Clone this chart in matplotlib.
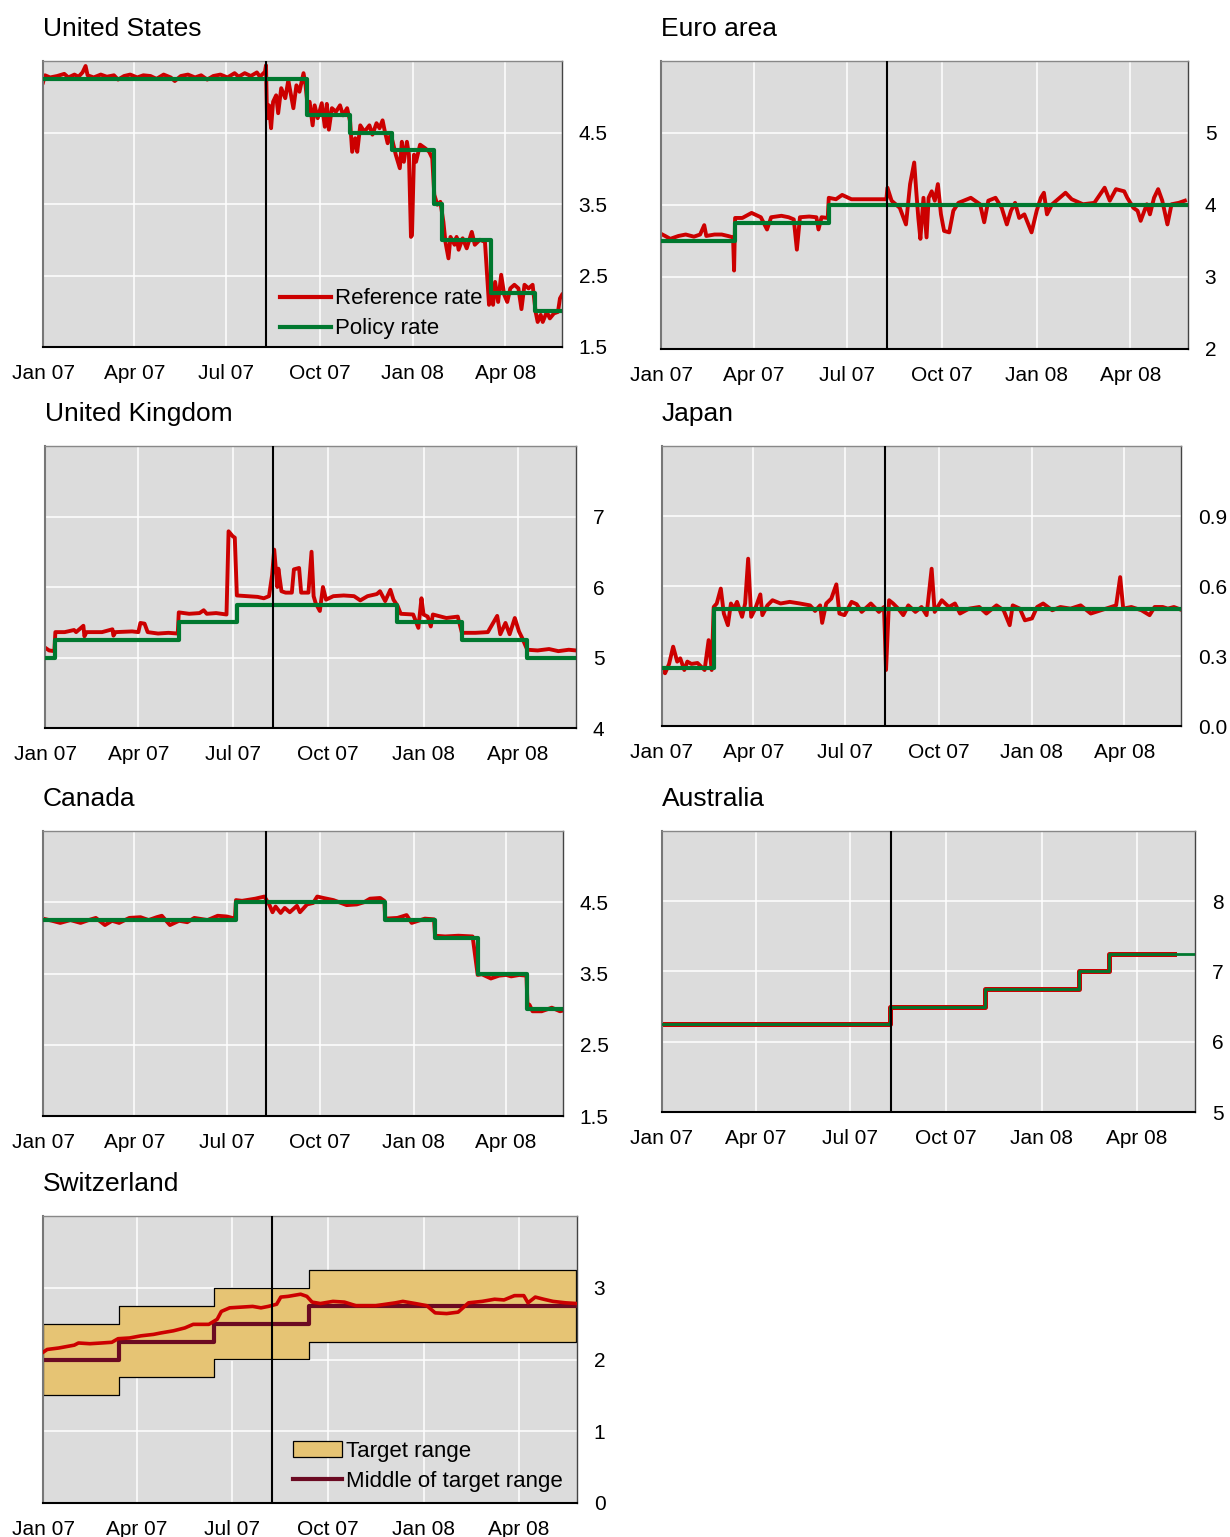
import numpy as np
import pandas as pd
import matplotlib
matplotlib.use("Agg")
import matplotlib.pyplot as plt
from matplotlib.lines import Line2D
from matplotlib.patches import Patch

plt.rcParams['font.family'] = ['Liberation Sans', 'DejaVu Sans']

RED = '#CC0000'
GREEN = '#00782F'
MAROON = '#6B0A22'
TARGET = '#E6C474'
BG = '#DCDCDC'

START = '2007-01-01'
END = '2008-05-27'
TURMOIL = '2007-08-09'

quarters = pd.date_range('2007-01-01', '2008-04-01', freq='QS')
quarter_labels = [d.strftime('%b %y') for d in quarters]

# ---- United States ----
us_ref = [
    ("2007-01-01", 5.20), ("2007-01-03", 5.30), ("2007-01-08", 5.27), ("2007-01-15", 5.29),
    ("2007-01-22", 5.32), ("2007-01-26", 5.27), ("2007-02-01", 5.31), ("2007-02-05", 5.28),
    ("2007-02-09", 5.34), ("2007-02-12", 5.43), ("2007-02-14", 5.30), ("2007-02-20", 5.27),
    ("2007-02-27", 5.31), ("2007-03-05", 5.28), ("2007-03-12", 5.30), ("2007-03-16", 5.24),
    ("2007-03-22", 5.29), ("2007-03-28", 5.31), ("2007-04-04", 5.27), ("2007-04-10", 5.30),
    ("2007-04-17", 5.29), ("2007-04-23", 5.25), ("2007-04-30", 5.31), ("2007-05-07", 5.27),
    ("2007-05-11", 5.22), ("2007-05-17", 5.29), ("2007-05-24", 5.31), ("2007-05-31", 5.27),
    ("2007-06-06", 5.30), ("2007-06-12", 5.24), ("2007-06-18", 5.29), ("2007-06-25", 5.31),
    ("2007-07-02", 5.27), ("2007-07-09", 5.33), ("2007-07-13", 5.28), ("2007-07-19", 5.33),
    ("2007-07-25", 5.29), ("2007-07-31", 5.34), ("2007-08-03", 5.28), ("2007-08-08", 5.35),
    ("2007-08-09", 5.44), ("2007-08-10", 4.70), ("2007-08-12", 4.88), ("2007-08-14", 4.56),
    ("2007-08-16", 4.93), ("2007-08-19", 5.02), ("2007-08-21", 4.77), ("2007-08-24", 5.12),
    ("2007-08-28", 4.98), ("2007-08-31", 5.23), ("2007-09-05", 4.84), ("2007-09-08", 5.16),
    ("2007-09-11", 5.07), ("2007-09-15", 5.33), ("2007-09-17", 5.16), ("2007-09-19", 4.88),
    ("2007-09-21", 4.93), ("2007-09-24", 4.60), ("2007-09-26", 4.88), ("2007-09-29", 4.70),
    ("2007-10-03", 4.91), ("2007-10-06", 4.58), ("2007-10-08", 4.90), ("2007-10-10", 4.54),
    ("2007-10-13", 4.84), ("2007-10-17", 4.79), ("2007-10-21", 4.88), ("2007-10-24", 4.74),
    ("2007-10-28", 4.84), ("2007-10-31", 4.65), ("2007-11-02", 4.23), ("2007-11-05", 4.42),
    ("2007-11-07", 4.23), ("2007-11-10", 4.60), ("2007-11-14", 4.51), ("2007-11-19", 4.60),
    ("2007-11-22", 4.47), ("2007-11-26", 4.63), ("2007-11-29", 4.56), ("2007-12-02", 4.67),
    ("2007-12-04", 4.53), ("2007-12-07", 4.35), ("2007-12-10", 4.47), ("2007-12-12", 4.37),
    ("2007-12-15", 4.19), ("2007-12-19", 4.00), ("2007-12-21", 4.37), ("2007-12-23", 4.09),
    ("2007-12-26", 4.37), ("2007-12-28", 4.19), ("2007-12-30", 3.04), ("2007-12-31", 3.06),
    ("2008-01-02", 4.19), ("2008-01-04", 4.09), ("2008-01-08", 4.33), ("2008-01-13", 4.28),
    ("2008-01-17", 4.23), ("2008-01-20", 4.14), ("2008-01-22", 3.63), ("2008-01-25", 3.49),
    ("2008-01-28", 3.53), ("2008-01-31", 3.25), ("2008-02-02", 2.97), ("2008-02-05", 2.74),
    ("2008-02-07", 3.04), ("2008-02-11", 2.93), ("2008-02-13", 3.04), ("2008-02-15", 2.86),
    ("2008-02-19", 3.02), ("2008-02-23", 2.88), ("2008-02-28", 3.11), ("2008-03-02", 2.93),
    ("2008-03-07", 3.00), ("2008-03-12", 2.97), ("2008-03-16", 2.09), ("2008-03-18", 2.32),
    ("2008-03-20", 2.09), ("2008-03-22", 2.41), ("2008-03-25", 2.13), ("2008-03-28", 2.51),
    ("2008-03-31", 2.23), ("2008-04-03", 2.13), ("2008-04-06", 2.32), ("2008-04-10", 2.37),
    ("2008-04-14", 2.32), ("2008-04-17", 2.03), ("2008-04-20", 2.37), ("2008-04-24", 2.32),
    ("2008-04-28", 2.37), ("2008-05-01", 1.99), ("2008-05-03", 1.85), ("2008-05-06", 1.95),
    ("2008-05-08", 1.85), ("2008-05-12", 1.99), ("2008-05-15", 1.90), ("2008-05-19", 1.97),
    ("2008-05-23", 1.99), ("2008-05-25", 2.18), ("2008-05-27", 2.23),
]
us_policy = [
    ("2007-01-01", 5.25), ("2007-09-18", 4.75), ("2007-10-31", 4.50), ("2007-12-11", 4.25),
    ("2008-01-22", 3.50), ("2008-01-30", 3.00), ("2008-03-18", 2.25), ("2008-04-30", 2.00),
    (END, 2.00),
]

# ---- Euro area ----
ea_ref = [
    ("2007-01-01", 3.60), ("2007-01-05", 3.57), ("2007-01-10", 3.53), ("2007-01-18", 3.57),
    ("2007-01-25", 3.59), ("2007-02-02", 3.56), ("2007-02-08", 3.59), ("2007-02-12", 3.72),
    ("2007-02-14", 3.57), ("2007-02-22", 3.59), ("2007-03-01", 3.59), ("2007-03-07", 3.57),
    ("2007-03-12", 3.55), ("2007-03-13", 3.09), ("2007-03-14", 3.82), ("2007-03-21", 3.82),
    ("2007-03-30", 3.89), ("2007-04-08", 3.83), ("2007-04-14", 3.66), ("2007-04-18", 3.83),
    ("2007-04-28", 3.85), ("2007-05-05", 3.83), ("2007-05-10", 3.80), ("2007-05-13", 3.38),
    ("2007-05-16", 3.83), ("2007-05-25", 3.84), ("2007-06-01", 3.83), ("2007-06-03", 3.66),
    ("2007-06-06", 3.83), ("2007-06-12", 3.82), ("2007-06-13", 4.10), ("2007-06-20", 4.08),
    ("2007-06-26", 4.14), ("2007-07-05", 4.08), ("2007-07-15", 4.08), ("2007-07-25", 4.08),
    ("2007-08-03", 4.08), ("2007-08-08", 4.08), ("2007-08-09", 4.24), ("2007-08-13", 4.06),
    ("2007-08-21", 3.96), ("2007-08-27", 3.73), ("2007-08-31", 4.29), ("2007-09-04", 4.59),
    ("2007-09-06", 4.19), ("2007-09-08", 3.82), ("2007-09-10", 3.53), ("2007-09-13", 4.10),
    ("2007-09-16", 3.55), ("2007-09-18", 4.10), ("2007-09-21", 4.19), ("2007-09-24", 4.06),
    ("2007-09-27", 4.29), ("2007-09-30", 3.87), ("2007-10-03", 3.64), ("2007-10-08", 3.62),
    ("2007-10-12", 3.92), ("2007-10-17", 4.03), ("2007-10-29", 4.10), ("2007-11-07", 4.01),
    ("2007-11-11", 3.76), ("2007-11-15", 4.06), ("2007-11-22", 4.10), ("2007-11-28", 3.96),
    ("2007-12-03", 3.73), ("2007-12-07", 3.92), ("2007-12-11", 4.03), ("2007-12-15", 3.82),
    ("2007-12-20", 3.87), ("2007-12-27", 3.62), ("2008-01-01", 3.92), ("2008-01-05", 4.10),
    ("2008-01-08", 4.17), ("2008-01-11", 3.87), ("2008-01-16", 4.01), ("2008-01-29", 4.17),
    ("2008-02-04", 4.08), ("2008-02-15", 4.01), ("2008-02-26", 4.03), ("2008-03-07", 4.24),
    ("2008-03-12", 4.06), ("2008-03-18", 4.22), ("2008-03-26", 4.19), ("2008-03-29", 4.10),
    ("2008-04-04", 3.96), ("2008-04-08", 3.92), ("2008-04-11", 3.78), ("2008-04-17", 4.01),
    ("2008-04-20", 3.87), ("2008-04-24", 4.10), ("2008-04-28", 4.22), ("2008-05-02", 4.06),
    ("2008-05-07", 3.73), ("2008-05-11", 4.01), ("2008-05-18", 4.03), ("2008-05-24", 4.06),
]
ea_policy = [("2007-01-01", 3.50), ("2007-03-14", 3.75), ("2007-06-13", 4.00), (END, 4.00)]

# ---- United Kingdom ----
uk_ref = [
    ("2007-01-01", 5.14), ("2007-01-05", 5.10), ("2007-01-10", 5.09), ("2007-01-11", 5.36),
    ("2007-01-20", 5.36), ("2007-01-29", 5.39), ("2007-01-31", 5.36), ("2007-02-07", 5.45),
    ("2007-02-08", 5.30), ("2007-02-10", 5.36), ("2007-02-25", 5.36), ("2007-03-07", 5.40),
    ("2007-03-08", 5.31), ("2007-03-10", 5.36), ("2007-03-26", 5.37), ("2007-04-01", 5.36),
    ("2007-04-03", 5.49), ("2007-04-07", 5.48), ("2007-04-10", 5.36), ("2007-04-20", 5.34),
    ("2007-04-30", 5.35), ("2007-05-09", 5.34), ("2007-05-10", 5.64), ("2007-05-20", 5.62),
    ("2007-05-30", 5.63), ("2007-06-03", 5.67), ("2007-06-06", 5.62), ("2007-06-15", 5.63),
    ("2007-06-25", 5.61), ("2007-06-27", 6.79), ("2007-07-01", 6.72), ("2007-07-03", 6.70),
    ("2007-07-05", 5.88), ("2007-07-15", 5.87), ("2007-07-25", 5.86), ("2007-07-31", 5.84),
    ("2007-08-05", 5.87), ("2007-08-08", 6.17), ("2007-08-10", 6.53), ("2007-08-13", 6.00),
    ("2007-08-14", 6.26), ("2007-08-17", 5.94), ("2007-08-21", 5.92), ("2007-08-27", 5.92),
    ("2007-08-29", 6.25), ("2007-09-03", 6.27), ("2007-09-05", 5.92), ("2007-09-12", 5.92),
    ("2007-09-15", 6.50), ("2007-09-17", 5.87), ("2007-09-19", 5.77), ("2007-09-23", 5.66),
    ("2007-09-26", 6.00), ("2007-09-29", 5.82), ("2007-10-06", 5.87), ("2007-10-16", 5.88),
    ("2007-10-26", 5.87), ("2007-11-01", 5.81), ("2007-11-08", 5.87), ("2007-11-17", 5.90),
    ("2007-11-20", 5.94), ("2007-11-25", 5.80), ("2007-11-30", 5.96), ("2007-12-03", 5.82),
    ("2007-12-07", 5.73), ("2007-12-10", 5.62), ("2007-12-22", 5.61), ("2007-12-27", 5.42),
    ("2007-12-30", 5.84), ("2008-01-01", 5.61), ("2008-01-05", 5.58), ("2008-01-08", 5.44),
    ("2008-01-10", 5.61), ("2008-01-23", 5.56), ("2008-02-03", 5.58), ("2008-02-07", 5.35),
    ("2008-02-20", 5.35), ("2008-03-03", 5.36), ("2008-03-12", 5.59), ("2008-03-15", 5.33),
    ("2008-03-20", 5.49), ("2008-03-24", 5.33), ("2008-03-29", 5.56), ("2008-04-02", 5.37),
    ("2008-04-05", 5.28), ("2008-04-10", 5.11), ("2008-04-20", 5.10), ("2008-05-01", 5.12),
    ("2008-05-10", 5.09), ("2008-05-20", 5.11), ("2008-05-27", 5.10),
]
uk_policy = [
    ("2007-01-01", 5.00), ("2007-01-11", 5.25), ("2007-05-10", 5.50), ("2007-07-05", 5.75),
    ("2007-12-06", 5.50), ("2008-02-07", 5.25), ("2008-04-10", 5.00), (END, 5.00),
]

# ---- Japan ----
jp_ref = [
    ("2007-01-01", 0.240), ("2007-01-04", 0.226), ("2007-01-08", 0.266), ("2007-01-12", 0.340),
    ("2007-01-16", 0.276), ("2007-01-19", 0.290), ("2007-01-23", 0.240), ("2007-01-26", 0.276),
    ("2007-01-30", 0.266), ("2007-02-05", 0.270), ("2007-02-12", 0.240), ("2007-02-16", 0.368),
    ("2007-02-19", 0.240), ("2007-02-21", 0.510), ("2007-02-24", 0.525), ("2007-02-28", 0.589),
    ("2007-03-03", 0.482), ("2007-03-07", 0.432), ("2007-03-10", 0.525), ("2007-03-13", 0.503),
    ("2007-03-16", 0.532), ("2007-03-21", 0.468), ("2007-03-24", 0.525), ("2007-03-27", 0.717),
    ("2007-03-30", 0.468), ("2007-04-03", 0.503), ("2007-04-08", 0.564), ("2007-04-10", 0.475),
    ("2007-04-15", 0.517), ("2007-04-20", 0.539), ("2007-04-28", 0.525), ("2007-05-07", 0.532),
    ("2007-05-17", 0.525), ("2007-05-27", 0.517), ("2007-06-01", 0.493), ("2007-06-06", 0.517),
    ("2007-06-08", 0.442), ("2007-06-12", 0.525), ("2007-06-17", 0.546), ("2007-06-22", 0.607),
    ("2007-06-25", 0.482), ("2007-06-30", 0.475), ("2007-07-07", 0.532), ("2007-07-12", 0.522),
    ("2007-07-17", 0.489), ("2007-07-26", 0.525), ("2007-08-03", 0.489), ("2007-08-08", 0.510),
    ("2007-08-10", 0.240), ("2007-08-13", 0.539), ("2007-08-17", 0.525), ("2007-08-22", 0.503),
    ("2007-08-27", 0.475), ("2007-09-01", 0.517), ("2007-09-08", 0.489), ("2007-09-14", 0.510),
    ("2007-09-19", 0.475), ("2007-09-24", 0.674), ("2007-09-27", 0.489), ("2007-10-04", 0.539),
    ("2007-10-11", 0.510), ("2007-10-17", 0.525), ("2007-10-22", 0.482), ("2007-10-31", 0.503),
    ("2007-11-10", 0.510), ("2007-11-17", 0.482), ("2007-11-27", 0.517), ("2007-12-04", 0.496),
    ("2007-12-10", 0.432), ("2007-12-13", 0.517), ("2007-12-20", 0.503), ("2007-12-25", 0.453),
    ("2008-01-01", 0.461), ("2008-01-06", 0.510), ("2008-01-12", 0.525), ("2008-01-21", 0.496),
    ("2008-01-29", 0.510), ("2008-02-08", 0.503), ("2008-02-18", 0.517), ("2008-02-28", 0.482),
    ("2008-03-09", 0.496), ("2008-03-19", 0.510), ("2008-03-24", 0.517), ("2008-03-28", 0.638),
    ("2008-03-31", 0.503), ("2008-04-08", 0.510), ("2008-04-18", 0.496), ("2008-04-26", 0.475),
    ("2008-05-01", 0.510), ("2008-05-09", 0.510), ("2008-05-14", 0.503), ("2008-05-20", 0.510),
    ("2008-05-26", 0.500),
]
jp_policy = [("2007-01-01", 0.25), ("2007-02-21", 0.50), (END, 0.50)]

# ---- Canada ----
ca_ref = [
    ("2007-01-01", 4.27), ("2007-01-10", 4.24), ("2007-01-18", 4.21), ("2007-01-28", 4.25),
    ("2007-02-07", 4.21), ("2007-02-15", 4.25), ("2007-02-22", 4.28), ("2007-03-03", 4.18),
    ("2007-03-10", 4.24), ("2007-03-17", 4.21), ("2007-03-27", 4.28), ("2007-04-07", 4.29),
    ("2007-04-15", 4.25), ("2007-04-23", 4.29), ("2007-04-28", 4.31), ("2007-05-06", 4.18),
    ("2007-05-15", 4.24), ("2007-05-23", 4.22), ("2007-05-30", 4.28), ("2007-06-12", 4.25),
    ("2007-06-22", 4.31), ("2007-07-01", 4.30), ("2007-07-09", 4.27), ("2007-07-10", 4.53),
    ("2007-07-16", 4.52), ("2007-07-29", 4.55), ("2007-08-07", 4.58), ("2007-08-12", 4.46),
    ("2007-08-15", 4.36), ("2007-08-18", 4.44), ("2007-08-23", 4.35), ("2007-08-27", 4.42),
    ("2007-09-01", 4.36), ("2007-09-08", 4.45), ("2007-09-11", 4.36), ("2007-09-18", 4.47),
    ("2007-09-24", 4.49), ("2007-09-28", 4.58), ("2007-10-04", 4.56), ("2007-10-14", 4.53),
    ("2007-10-27", 4.46), ("2007-11-06", 4.47), ("2007-11-13", 4.50), ("2007-11-19", 4.55),
    ("2007-11-29", 4.56), ("2007-12-03", 4.52), ("2007-12-04", 4.27), ("2007-12-16", 4.28),
    ("2007-12-25", 4.32), ("2007-12-30", 4.21), ("2008-01-12", 4.27), ("2008-01-21", 4.26),
    ("2008-01-22", 4.03), ("2008-02-01", 4.02), ("2008-02-14", 4.03), ("2008-02-28", 4.02),
    ("2008-03-04", 3.48), ("2008-03-08", 3.49), ("2008-03-17", 3.43), ("2008-03-25", 3.47),
    ("2008-04-01", 3.48), ("2008-04-06", 3.46), ("2008-04-14", 3.48), ("2008-04-21", 3.47),
    ("2008-04-22", 3.08), ("2008-04-24", 3.06), ("2008-04-27", 2.97), ("2008-05-06", 2.97),
    ("2008-05-16", 3.02), ("2008-05-24", 2.97), ("2008-05-27", 2.98),
]
ca_policy = [
    ("2007-01-01", 4.25), ("2007-07-10", 4.50), ("2007-12-04", 4.25), ("2008-01-22", 4.00),
    ("2008-03-04", 3.50), ("2008-04-22", 3.00), (END, 3.00),
]

# ---- Australia ----
au_ref = [
    ("2007-01-01", 6.25), ("2007-08-08", 6.50), ("2007-11-07", 6.75), ("2008-02-06", 7.00),
    ("2008-03-05", 7.25), ("2008-05-07", 7.25),
]
au_policy = [
    ("2007-01-01", 6.25), ("2007-08-08", 6.50), ("2007-11-07", 6.75), ("2008-02-06", 7.00),
    ("2008-03-05", 7.25), (END, 7.25),
]

# ---- Switzerland ----
ch_ref = [
    ("2007-01-01", 2.10), ("2007-01-05", 2.14), ("2007-01-16", 2.16), ("2007-01-31", 2.20),
    ("2007-02-04", 2.23), ("2007-02-15", 2.22), ("2007-02-26", 2.23), ("2007-03-08", 2.24),
    ("2007-03-14", 2.29), ("2007-03-25", 2.30), ("2007-04-05", 2.33), ("2007-04-17", 2.35),
    ("2007-04-24", 2.37), ("2007-05-06", 2.40), ("2007-05-17", 2.44), ("2007-05-25", 2.49),
    ("2007-06-09", 2.49), ("2007-06-17", 2.56), ("2007-06-21", 2.67), ("2007-06-29", 2.72),
    ("2007-07-10", 2.73), ("2007-07-21", 2.74), ("2007-07-29", 2.72), ("2007-08-05", 2.74),
    ("2007-08-13", 2.77), ("2007-08-17", 2.87), ("2007-08-24", 2.88), ("2007-09-05", 2.91),
    ("2007-09-11", 2.88), ("2007-09-16", 2.80), ("2007-09-24", 2.78), ("2007-10-06", 2.81),
    ("2007-10-17", 2.80), ("2007-10-28", 2.75), ("2007-11-16", 2.75), ("2007-12-05", 2.79),
    ("2007-12-12", 2.81), ("2007-12-24", 2.78), ("2008-01-04", 2.75), ("2008-01-12", 2.65),
    ("2008-01-23", 2.64), ("2008-02-03", 2.66), ("2008-02-13", 2.79), ("2008-02-26", 2.81),
    ("2008-03-09", 2.84), ("2008-03-18", 2.83), ("2008-03-28", 2.89), ("2008-04-06", 2.89),
    ("2008-04-10", 2.79), ("2008-04-17", 2.87), ("2008-04-25", 2.84), ("2008-05-04", 2.81),
    ("2008-05-16", 2.79), ("2008-05-27", 2.78),
]
ch_range_dates = ["2007-01-01", "2007-03-15", "2007-06-14", "2007-09-13", "2008-05-26"]
ch_range_low = [1.50, 1.75, 2.00, 2.25, 2.25]
ch_range_high = [2.50, 2.75, 3.00, 3.25, 3.25]
ch_middle = [("2007-01-01", 2.00), ("2007-03-15", 2.25), ("2007-06-14", 2.50),
             ("2007-09-13", 2.75), (END, 2.75)]

W, H = 1230, 1537


def split(pairs):
    d = pd.to_datetime([p[0] for p in pairs])
    v = np.array([p[1] for p in pairs])
    return d, v


def make_axes(fig, l, t, r, b, title):
    ax = fig.add_axes([l / W, 1 - b / H, (r - l) / W, (b - t) / H])
    fig.text(l / W, 1 - (t - 25) / H, title, fontsize=19, ha='left', va='baseline')
    return ax


def style_axes(ax, ylim, yticks, fmt):
    ax.set_facecolor(BG)
    ax.set_xlim(pd.Timestamp(START), pd.Timestamp(END))
    ax.set_ylim(*ylim)
    ax.set_xticks(quarters)
    ax.set_xticklabels(quarter_labels)
    ax.set_yticks(yticks)
    ax.set_yticklabels([fmt.format(y) for y in yticks])
    ax.yaxis.tick_right()
    ax.tick_params(axis='x', length=0, pad=12, labelsize=15)
    ax.tick_params(axis='y', length=0, pad=12, labelsize=15)
    ax.grid(True, color='white', lw=1.1)
    ax.set_axisbelow(True)
    ax.spines['left'].set_color('#777777')
    ax.spines['left'].set_linewidth(1.5)
    ax.spines['top'].set_color('#888888')
    ax.spines['top'].set_linewidth(1.0)
    ax.spines['bottom'].set_color('black')
    ax.spines['bottom'].set_linewidth(1.5)
    ax.spines['right'].set_color('#444444')
    ax.spines['right'].set_linewidth(1.0)
    ax.axvline(pd.Timestamp(TURMOIL), color='black', lw=1.5, zorder=4)


def rate_panel(ax, ref, policy, ylim, yticks, fmt, ref_lw=2.8, pol_lw=3.0, ref_steps=False):
    d, v = split(ref)
    ax.plot(d, v, color=RED, lw=ref_lw, zorder=2,
            drawstyle='steps-post' if ref_steps else 'default')
    d, v = split(policy)
    ax.plot(d, v, color=GREEN, lw=pol_lw, drawstyle='steps-post', zorder=3)
    style_axes(ax, ylim, yticks, fmt)


fig = plt.figure(figsize=(W / 100, H / 100), dpi=100)

ax = make_axes(fig, 43, 61, 562, 347, 'United States')
rate_panel(ax, us_ref, us_policy, (1.5, 5.5), [1.5, 2.5, 3.5, 4.5], '{:.1f}')
handles = [Line2D([], [], color=RED, lw=3), Line2D([], [], color=GREEN, lw=3)]
ax.legend(handles, ['Reference rate', 'Policy rate'], loc='lower left',
          bbox_to_anchor=(0.456, 0.027), frameon=False, fontsize=16,
          handlelength=2.3, handletextpad=0.2, labelspacing=0.4, borderpad=0.0,
          borderaxespad=0.0)

ax = make_axes(fig, 661, 61, 1188, 349, 'Euro area')
rate_panel(ax, ea_ref, ea_policy, (2, 6), [2, 3, 4, 5], '{:.0f}')

ax = make_axes(fig, 45, 446, 576, 728, 'United Kingdom')
rate_panel(ax, uk_ref, uk_policy, (4, 8), [4, 5, 6, 7], '{:.0f}')

ax = make_axes(fig, 662, 446, 1181, 726, 'Japan')
rate_panel(ax, jp_ref, jp_policy, (0, 1.2), [0.0, 0.3, 0.6, 0.9], '{:.1f}')

ax = make_axes(fig, 43, 831, 563, 1116, 'Canada')
rate_panel(ax, ca_ref, ca_policy, (1.5, 5.5), [1.5, 2.5, 3.5, 4.5], '{:.1f}')

ax = make_axes(fig, 662, 831, 1195, 1112, 'Australia')
rate_panel(ax, au_ref, au_policy, (5, 9), [5, 6, 7, 8], '{:.0f}',
           ref_lw=3.6, pol_lw=2.0, ref_steps=True)

ax = make_axes(fig, 43, 1216, 577, 1503, 'Switzerland')
rd = pd.to_datetime(ch_range_dates)
ax.fill_between(rd, ch_range_low, ch_range_high, step='post', facecolor=TARGET,
                edgecolor='black', lw=0.9, zorder=1)
d, v = split(ch_middle)
ax.plot(d, v, color=MAROON, lw=3.0, drawstyle='steps-post', zorder=2)
d, v = split(ch_ref)
ax.plot(d, v, color=RED, lw=2.6, zorder=3)
style_axes(ax, (0, 4), [0, 1, 2, 3], '{:.0f}')
handles = [Patch(facecolor=TARGET, edgecolor='black', lw=0.9),
           Line2D([], [], color=MAROON, lw=3)]
ax.legend(handles, ['Target range', 'Middle of target range'], loc='lower left',
          bbox_to_anchor=(0.468, 0.04), frameon=False, fontsize=16,
          handlelength=2.2, handletextpad=0.2, labelspacing=0.4, borderpad=0.0,
          borderaxespad=0.0)

fig.savefig('out.png', dpi=100)
